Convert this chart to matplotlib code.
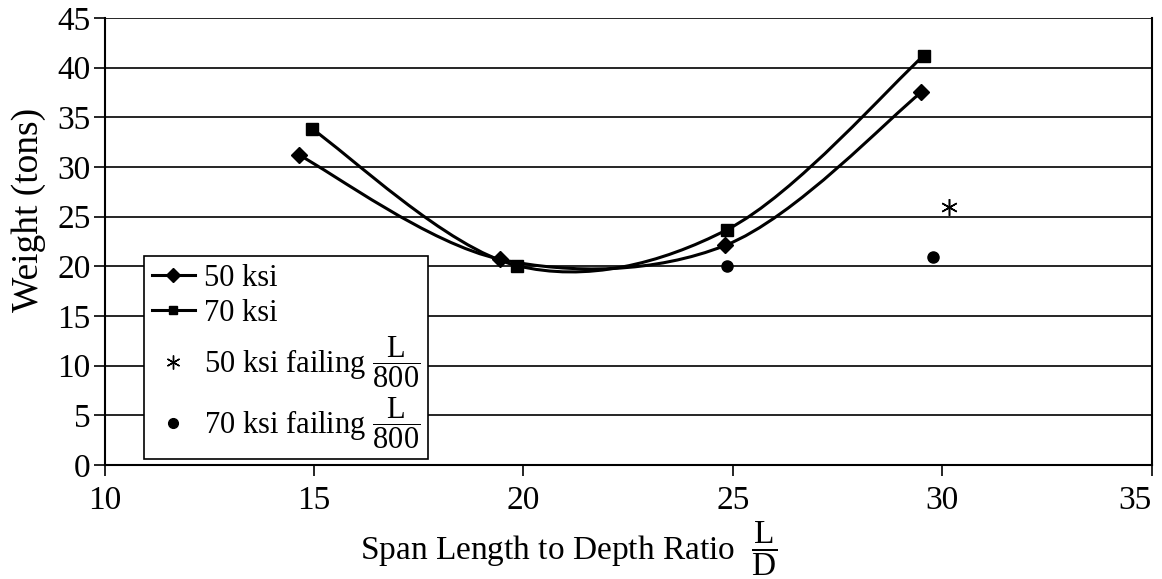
import numpy as np
import matplotlib.pyplot as plt
from matplotlib.path import Path
from matplotlib.patches import PathPatch
from matplotlib.lines import Line2D

plt.rcParams['font.family'] = ['Liberation Serif', 'DejaVu Serif']
plt.rcParams['mathtext.fontset'] = 'custom'
plt.rcParams['mathtext.rm'] = 'Liberation Serif'
plt.rcParams['mathtext.it'] = 'Liberation Serif:italic'

# data
ratio_50 = [14.64, 19.45, 24.82, 29.5]
weight_50 = [31.2, 20.7, 22.1, 37.5]
ratio_70 = [14.96, 19.84, 24.87, 29.56]
weight_70 = [33.8, 20.07, 23.7, 41.2]
fail_50_x = [30.17]
fail_50_y = [25.95]
fail_70_x = [24.87, 29.77]
fail_70_y = [20.0, 20.9]

xticks = [10, 15, 20, 25, 30, 35]
yticks = [0, 5, 10, 15, 20, 25, 30, 35, 40, 45]


def smooth_path(xs, ys):
    # excel-like smoothed line: bezier segments with catmull-rom control points
    p = np.column_stack([xs, ys]).astype(float)
    n = len(p)
    verts = [p[0]]
    codes = [Path.MOVETO]
    for i in range(n - 1):
        prev = p[max(i - 1, 0)]
        nxt = p[min(i + 2, n - 1)]
        c1 = p[i] + (p[i + 1] - prev) / 6
        c2 = p[i + 1] - (nxt - p[i]) / 6
        verts += [c1, c2, p[i + 1]]
        codes += [Path.CURVE4] * 3
    return Path(verts, codes)


fig = plt.figure(figsize=(11.62, 5.79), dpi=100)
ax = fig.add_axes([0.090, 0.197, 0.901, 0.772])

ax.grid(axis='y', color='black', lw=1.2)
ax.set_axisbelow(True)

for xs, ys, mk, ms in [(ratio_50, weight_50, 'D', 8), (ratio_70, weight_70, 's', 8)]:
    ax.add_patch(PathPatch(smooth_path(xs, ys), fill=False, edgecolor='black', lw=2.2, zorder=3))
    ax.plot(xs, ys, ls='none', marker=mk, ms=ms, color='black', zorder=4)

ax.plot(fail_50_x, fail_50_y, ls='none', marker=(6, 2, 0), ms=12, mew=1.1, color='black')
ax.plot(fail_70_x, fail_70_y, ls='none', marker='o', ms=8, color='black')

ax.set_xlim(10, 35)
ax.set_ylim(0, 45)
ax.set_xticks(xticks)
ax.set_yticks(yticks)
ax.tick_params(axis='both', labelsize=24, direction='out', length=8, width=1.2, color='black')
ax.tick_params(axis='y', pad=2)
ax.tick_params(axis='x', pad=7)
ax.get_xticklabels()[-1].set_horizontalalignment('right')
for s in ['left', 'bottom', 'right']:
    ax.spines[s].set_linewidth(1.5)
ax.spines['top'].set_visible(False)

ax.set_xlabel(r'Span Length to Depth Ratio  $\dfrac{\mathrm{L}}{\mathrm{D}}$', fontsize=24, labelpad=2)
ax.xaxis.set_label_coords(0.443, -0.123)
ax.set_ylabel('Weight (tons)', fontsize=27)
ax.yaxis.set_label_coords(-0.056, 0.57)

handles = [
    Line2D([], [], color='black', lw=2.2, marker='D', ms=7),
    Line2D([], [], color='black', lw=2.2, marker='s', ms=6),
    Line2D([], [], ls='none', color='black', marker=(6, 2, 0), ms=10, mew=1),
    Line2D([], [], ls='none', color='black', marker='o', ms=7),
]
labels = ['50 ksi', '70 ksi',
          r'50 ksi failing $\dfrac{\mathrm{L}}{\mathrm{800}}$',
          r'70 ksi failing $\dfrac{\mathrm{L}}{\mathrm{800}}$']
leg = ax.legend(handles, labels, loc='lower left', bbox_to_anchor=(0.038, 0.013),
                borderaxespad=0, fontsize=22, handlelength=1.4, handletextpad=0.3,
                labelspacing=0.2, borderpad=0.25, fancybox=False, framealpha=1,
                edgecolor='black')
leg.get_frame().set_linewidth(1.2)

fig.savefig('out.png', dpi=100)
